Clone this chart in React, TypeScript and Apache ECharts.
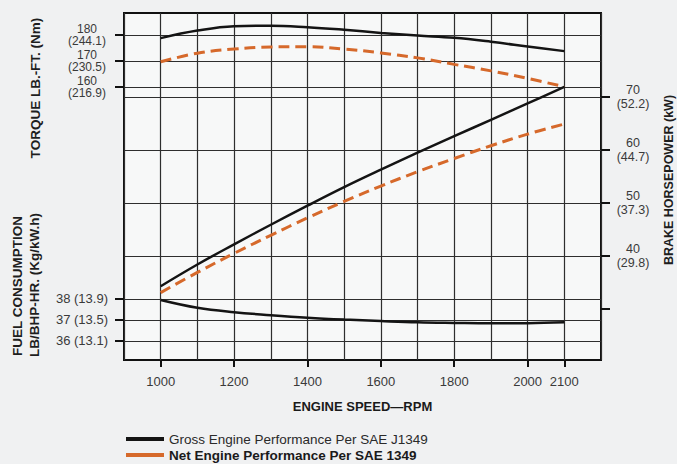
import { useEffect, useRef } from 'react';
import * as echarts from 'echarts';

// Engine speed (rpm) sample points
const rpm = [1000, 1100, 1200, 1300, 1400, 1500, 1600, 1700, 1800, 1900, 2000, 2100];
// Torque, lb-ft
const grossTorque = [178.8, 181.7, 183.4, 183.6, 183.0, 182.0, 180.8, 179.8, 178.9, 177.4, 175.6, 173.8];
const netTorque = [169.7, 173.0, 174.6, 175.4, 175.5, 174.6, 173.1, 171.2, 168.7, 166.2, 163.3, 160.1];
// Brake horsepower
const grossHp = [34.3, 38.4, 42.2, 45.9, 49.5, 53.0, 56.3, 59.5, 62.6, 65.7, 68.8, 71.9];
const netHp = [33.1, 36.9, 40.5, 43.9, 47.2, 50.3, 53.2, 55.9, 58.4, 60.8, 63.0, 64.9];
// Fuel consumption, lb/bhp-hr
const grossFuel = [37.95, 37.58, 37.37, 37.23, 37.11, 37.02, 36.95, 36.89, 36.86, 36.84, 36.85, 36.89];

// Tick labels
const xTickValues = [1000, 1200, 1400, 1600, 1800, 2000, 2100];
const torqueTicks = [160, 170, 180];
const torqueNm = ['216.9', '230.5', '244.1'];
const hpTicks = [40, 50, 60, 70];
const hpKw = ['29.8', '37.3', '44.7', '52.2'];
const hpExtraTicks = [30];
const fuelTicks = [36, 37, 38];
const fuelMetric = ['13.1', '13.5', '13.9'];

const GROSS = 'Gross Engine Performance Per SAE J1349';
const NET = 'Net Engine Performance Per SAE 1349';

const FONT = '"Liberation Sans", Arial, Helvetica, sans-serif';
const BLACK = '#141414';
const ORANGE = '#d6692b';
const GRIDLINE = { show: true, lineStyle: { color: '#2e2e2e', width: 1.2 } };
const TICK = { length: 9, lineStyle: { color: '#111', width: 2 } };

const pairs = (ys: number[]) => rpm.map((x, i) => [x, ys[i]]);

export default function App() {
  const ref = useRef<HTMLDivElement>(null);
  useEffect(() => {
    if (!ref.current) return;
    const chart = echarts.init(ref.current, null, { renderer: 'svg' });
    const labelBase = { color: '#3a3a3a', fontFamily: FONT, fontSize: 12.5, lineHeight: 12.5, hideOverlap: false, showMinLabel: true, showMaxLabel: true };
    const hpRange = { min: 20.38, max: 85.85 };
    const torqueRange = { min: 55.0, max: 188.46 };
    const titleStyle = { fontFamily: FONT, fontWeight: 'bold', fontSize: 13.5, fill: '#1e1e1e', align: 'center', verticalAlign: 'middle' };
    const legendBase = {
      orient: 'vertical', left: 121, itemGap: 2, icon: 'rect', itemWidth: 38, itemHeight: 4,
    };
    const torqueLabel = (values: number[]) => ({
      customValues: values, align: 'center', margin: 37, verticalAlign: 'middle',
      ...labelBase, fontSize: 12, lineHeight: 12.8,
      formatter: (v: number) => `${v}\n(${torqueNm[torqueTicks.indexOf(Math.round(v))]})`,
    });
    chart.setOption({
      animation: false,
      backgroundColor: '#f0f1f2',
      grid: {
        left: 124, right: 76, top: 13, bottom: 104,
        show: true, borderColor: '#111', borderWidth: 2, backgroundColor: '#f7f8f8',
      },
      xAxis: [
        {
          type: 'value', min: 900, max: 2200, interval: 100,
          axisLine: { show: false }, axisTick: { show: false }, axisLabel: { show: false },
          splitLine: GRIDLINE,
        },
        {
          type: 'value', min: 900, max: 2200, position: 'bottom',
          axisLine: { show: false },
          axisTick: { show: true, customValues: xTickValues, length: 7, lineStyle: { color: '#111', width: 2 } },
          axisLabel: { customValues: xTickValues, margin: 15, ...labelBase, fontSize: 13, formatter: (v: number) => String(v) },
          splitLine: { show: false },
          name: 'ENGINE SPEED—RPM', nameLocation: 'middle', nameGap: 40,
          nameTextStyle: { fontFamily: FONT, fontWeight: 'bold', fontSize: 13, color: '#1a1a1a' },
        },
      ],
      yAxis: [
        {
          type: 'value', position: 'left', ...torqueRange,
          axisLine: { show: false },
          axisTick: { show: true, customValues: torqueTicks, ...TICK },
          axisLabel: torqueLabel([torqueTicks[0], torqueTicks[2]]),
          splitLine: GRIDLINE,
        },
        {
          type: 'value', position: 'left', min: 35.095, max: 51.619,
          axisLine: { show: false },
          axisTick: { show: true, customValues: fuelTicks, ...TICK },
          axisLabel: {
            customValues: fuelTicks, align: 'right', margin: 16, ...labelBase, fontSize: 13,
            formatter: (v: number) => `${v} (${fuelMetric[fuelTicks.indexOf(Math.round(v))]})`,
          },
          splitLine: GRIDLINE,
        },
        {
          type: 'value', position: 'right', ...hpRange,
          axisLine: { show: false },
          axisTick: { show: true, customValues: hpTicks, ...TICK },
          axisLabel: {
            customValues: hpTicks, align: 'center', margin: 32, verticalAlign: 'middle', ...labelBase,
            lineHeight: 14,
            formatter: (v: number) => `${v}\n(${hpKw[hpTicks.indexOf(Math.round(v))]})`,
          },
          splitLine: GRIDLINE,
        },
        {
          type: 'value', position: 'right', ...hpRange,
          axisLine: { show: false },
          axisTick: { show: true, customValues: hpExtraTicks, ...TICK },
          axisLabel: { show: false },
          splitLine: { show: false },
        },
        {
          type: 'value', position: 'left', ...torqueRange,
          axisLine: { show: false },
          axisTick: { show: false },
          axisLabel: torqueLabel([torqueTicks[1]]),
          splitLine: { show: false },
        },
      ],
      legend: [
        {
          ...legendBase, top: 427, data: [{ name: GROSS }],
          textStyle: { fontFamily: FONT, fontSize: 13.5, color: '#2a2a2a' },
        },
        {
          ...legendBase, top: 443, data: [{ name: NET }],
          textStyle: { fontFamily: FONT, fontSize: 13.5, fontWeight: 'bold', color: '#1a1a1a' },
        },
      ],
      graphic: [
        { type: 'text', x: 35, y: 88, rotation: Math.PI / 2, style: { text: 'TORQUE LB.-FT. (Nm)', ...titleStyle } },
        { type: 'text', x: 17, y: 286, rotation: Math.PI / 2, style: { text: 'FUEL CONSUMPTION', ...titleStyle } },
        { type: 'text', x: 34, y: 285, rotation: Math.PI / 2, style: { text: 'LB/BHP-HR. (Kg/kW.h)', ...titleStyle } },
        { type: 'text', x: 669, y: 180, rotation: Math.PI / 2, style: { text: 'BRAKE HORSEPOWER (kW)', ...titleStyle, fontSize: 12.5 } },
      ],
      series: [
        {
          name: GROSS, type: 'line', xAxisIndex: 0, yAxisIndex: 0, data: pairs(grossTorque),
          smooth: 0.4, showSymbol: false, itemStyle: { color: BLACK },
          lineStyle: { color: BLACK, width: 2.5 }, z: 5,
        },
        {
          name: NET, type: 'line', xAxisIndex: 0, yAxisIndex: 0, data: pairs(netTorque),
          smooth: 0.4, showSymbol: false, itemStyle: { color: ORANGE },
          lineStyle: { color: ORANGE, width: 3, type: [11, 6] }, z: 5,
        },
        {
          name: GROSS, type: 'line', xAxisIndex: 0, yAxisIndex: 2, data: pairs(grossHp),
          smooth: 0.4, showSymbol: false, itemStyle: { color: BLACK },
          lineStyle: { color: BLACK, width: 2.5 }, z: 5,
        },
        {
          name: NET, type: 'line', xAxisIndex: 0, yAxisIndex: 2, data: pairs(netHp),
          smooth: 0.4, showSymbol: false, itemStyle: { color: ORANGE },
          lineStyle: { color: ORANGE, width: 3, type: [11, 6] }, z: 5,
        },
        {
          name: GROSS, type: 'line', xAxisIndex: 0, yAxisIndex: 1, data: pairs(grossFuel),
          smooth: 0.4, showSymbol: false, itemStyle: { color: BLACK },
          lineStyle: { color: BLACK, width: 2.5 }, z: 5,
        },
      ],
    });
    return () => chart.dispose();
  }, []);
  return <div ref={ref} style={{ position: 'fixed', left: 0, top: 0, width: 677, height: 464 }} />;
}
